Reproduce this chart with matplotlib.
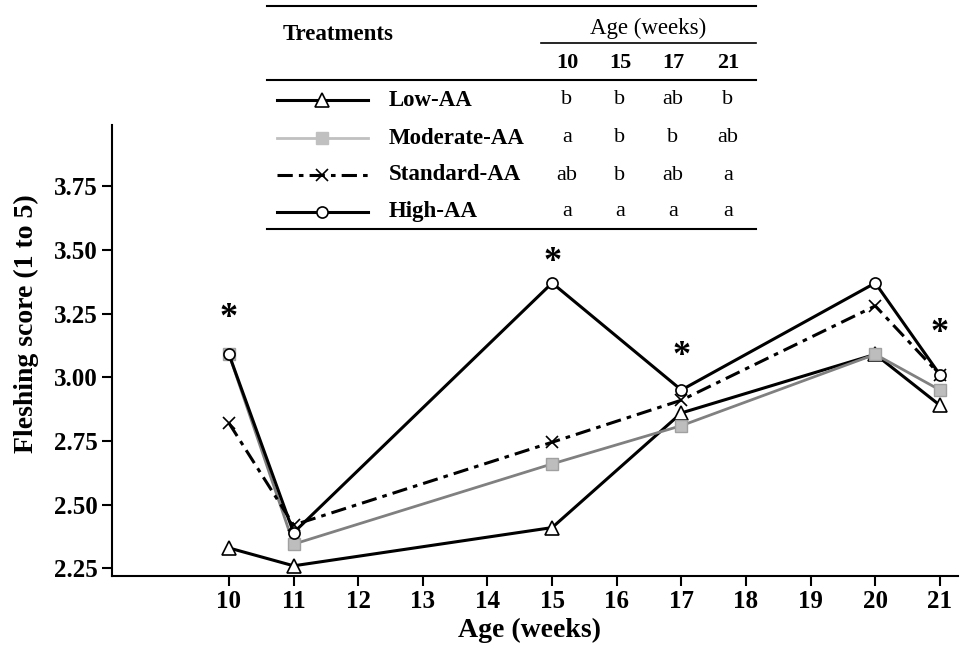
import matplotlib.pyplot as plt
from matplotlib.lines import Line2D

weeks = [10, 11, 15, 17, 20, 21]
low_aa = [2.33, 2.26, 2.41, 2.86, 3.09, 2.89]
moderate_aa = [3.09, 2.345, 2.66, 2.81, 3.09, 2.95]
standard_aa = [2.82, 2.42, 2.745, 2.91, 3.28, 3.01]
high_aa = [3.09, 2.39, 3.37, 2.95, 3.37, 3.01]

star_weeks = [10, 15, 17, 21]
star_y = [3.23, 3.45, 3.08, 3.17]

table_weeks = ['10', '15', '17', '21']
treatments = ['Low-AA', 'Moderate-AA', 'Standard-AA', 'High-AA']
letters = [['b', 'b', 'ab', 'b'],
           ['a', 'b', 'b', 'ab'],
           ['ab', 'b', 'ab', 'a'],
           ['a', 'a', 'a', 'a']]

W, H = 960, 652
plt.rcParams['font.family'] = ['Liberation Serif', 'DejaVu Serif']

fig = plt.figure(figsize=(9.6, 6.52), dpi=100)
ax = fig.add_axes([112 / W, 1 - 576 / H, (958 - 112) / W, (576 - 125) / H])

styles = [
    dict(color='black', lw=2.2, marker='^', ms=10, mfc='white', mec='black', mew=1.2),
    dict(color='#808080', lw=2.0, marker='s', ms=9, mfc='#bdbdbd', mec='#a0a0a0', mew=1.0),
    dict(color='black', lw=2.2, ls=(0, (5, 2, 1.5, 2)), marker='x', ms=9, mec='black', mew=1.2),
    dict(color='black', lw=2.2, marker='o', ms=8, mfc='white', mec='black', mew=1.2),
]
for vals, kw in zip([low_aa, moderate_aa, standard_aa, high_aa], styles):
    ax.plot(weeks, vals, zorder=3, **kw)

for xw, yv in zip(star_weeks, star_y):
    ax.text(xw, yv, '*', ha='center', va='center', fontsize=26, fontweight='bold')

ax.set_xlim(8.19, 21.28)
ax.set_ylim(2.22, 3.99)
ax.set_xticks(range(10, 22))
ax.set_yticks([2.25, 2.50, 2.75, 3.00, 3.25, 3.50, 3.75])
ax.set_yticklabels(['2.25', '2.50', '2.75', '3.00', '3.25', '3.50', '3.75'])
for s in ['top', 'right']:
    ax.spines[s].set_visible(False)
for s in ['left', 'bottom']:
    ax.spines[s].set_linewidth(1.5)
ax.tick_params(direction='out', length=7, width=1.5, labelsize=18, pad=3)
for lbl in ax.get_xticklabels() + ax.get_yticklabels():
    lbl.set_fontweight('bold')
ax.set_xlabel('Age (weeks)', fontsize=20, fontweight='bold')
ax.set_ylabel('Fleshing score (1 to 5)', fontsize=20, fontweight='bold')
ax.xaxis.set_label_coords(0.494, -0.092)
ax.yaxis.set_label_coords(-0.086, 0.56)

# table drawn on top, in figure pixel coordinates
def fx(px):
    return px / W

def fy(py):
    return 1 - py / H

def hline(x0, x1, y, lw=1.5):
    fig.add_artist(Line2D([fx(x0), fx(x1)], [fy(y), fy(y)], color='black', lw=lw))

hline(267, 756, 6)
hline(541, 756, 43, lw=1.2)
hline(267, 756, 80)
hline(267, 756, 229)

fig.text(fx(283), fy(35), 'Treatments', fontsize=16.5, fontweight='bold', va='center', ha='left')
fig.text(fx(648), fy(28), 'Age (weeks)', fontsize=16.5, va='center', ha='center')
col_x = [567, 620, 673, 728]
for cx, t in zip(col_x, table_weeks):
    fig.text(fx(cx), fy(63), t, fontsize=16, fontweight='bold', va='center', ha='center')

# legend samples: the moderate line is drawn lighter in the key
key_styles = [dict(s) for s in styles]
key_styles[1]['color'] = '#c0c0c0'
key_styles[1]['mec'] = '#c0c0c0'
key_styles[1]['mfc'] = '#c0c0c0'

row_y = [100, 138, 175, 212]
for i, (ry, name, kw) in enumerate(zip(row_y, treatments, key_styles)):
    fig.add_artist(Line2D([fx(277), fx(322), fx(368)], [fy(ry)] * 3,
                          markevery=[1], **kw))
    fig.text(fx(389), fy(ry), name, fontsize=16.5, fontweight='bold', va='center', ha='left')
    for cx, letter in zip(col_x, letters[i]):
        fig.text(fx(cx), fy(ry), letter, fontsize=16, va='center', ha='center')

fig.savefig('out.png', dpi=100)
